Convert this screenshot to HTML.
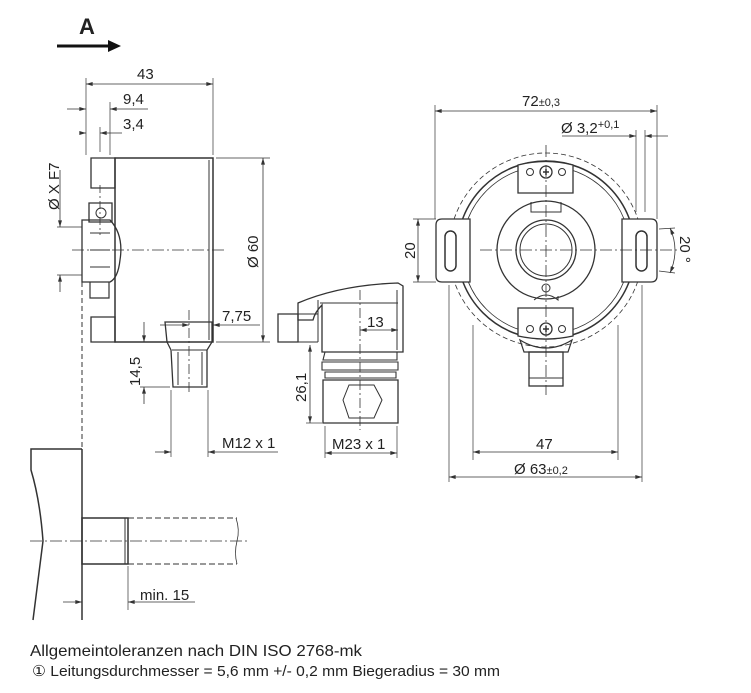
<!DOCTYPE html>
<html><head><meta charset="utf-8"><style>
html,body{margin:0;padding:0;background:#fff;}
svg{display:block;font-family:"Liberation Sans",sans-serif;}
text{fill:#222;}
</style></head><body>
<svg width="751" height="693" viewBox="0 0 751 693" xmlns="http://www.w3.org/2000/svg">
<defs>
<marker id="a" viewBox="0 0 10 6" refX="10" refY="3" markerWidth="9" markerHeight="5" orient="auto-start-reverse"><path d="M0,0 L10,3 L0,6 z" fill="#333"/></marker>
</defs>
<g stroke="#333" fill="none" stroke-width="1">
<line x1="57" y1="46" x2="112" y2="46" stroke-width="3" stroke="#111"/>
<path d="M108,40 L121,46 L108,52 z" fill="#111" stroke="none"/>

<rect x="115" y="158" width="98" height="184" stroke-width="1.5"/>
<line x1="209" y1="160" x2="209" y2="340"/>
<path d="M91,158 L115,158 L115,188 L91,188 Z M91,317 L115,317 L115,342 L91,342 Z" stroke-width="1.3"/>
<path d="M89,203 L112,203 L112,222 L89,222 Z" stroke-width="1.3"/>
<circle cx="101" cy="213" r="5"/>
<path d="M82,220 L110,220 Q124,235 120,260 Q118,278 110,282 L82,282 Z" stroke-width="1.3"/>
<line x1="90" y1="233" x2="110" y2="233"/><line x1="90" y1="250" x2="110" y2="250"/><line x1="90" y1="267" x2="110" y2="267"/>
<path d="M90,282 L90,298 L109,298 L109,282" stroke-width="1.2"/>
<path d="M165,322 L212,322 L212,342 L207,350 L207,387 L173,387 L171,350 L167,342 Z" stroke-width="1.3"/>
<line x1="172" y1="350" x2="207" y2="350"/>
<line x1="178" y1="352" x2="178" y2="385"/><line x1="202" y1="352" x2="202" y2="385"/>
<line x1="72" y1="250" x2="225" y2="250" stroke-dasharray="12,3,2,3" stroke-width="0.8"/>
<line x1="100" y1="185" x2="100" y2="235" stroke-dasharray="8,3,2,3" stroke-width="0.8"/>
<line x1="189" y1="310" x2="189" y2="395" stroke-dasharray="10,3,2,3" stroke-width="0.8"/>
<line x1="82" y1="282" x2="82" y2="450" stroke-dasharray="5,3"/>
<line x1="86" y1="78" x2="86" y2="155" stroke-width="0.7"/>
<line x1="213" y1="78" x2="213" y2="155" stroke-width="0.7"/>
<line x1="86" y1="84" x2="213" y2="84" marker-start="url(#a)" marker-end="url(#a)" stroke-width="0.8"/>
<line x1="110" y1="102" x2="110" y2="155" stroke-width="0.7"/>
<line x1="67" y1="109" x2="86" y2="109" marker-end="url(#a)" stroke-width="0.8"/>
<line x1="148" y1="109" x2="110" y2="109" marker-end="url(#a)" stroke-width="0.8"/>
<line x1="100" y1="127" x2="100" y2="152" stroke-width="0.7"/>
<line x1="80" y1="133" x2="86" y2="133" marker-end="url(#a)" stroke-width="0.8"/>
<line x1="122" y1="133" x2="100" y2="133" marker-end="url(#a)" stroke-width="0.8"/>
<line x1="60" y1="170" x2="60" y2="227" marker-end="url(#a)" stroke-width="0.8"/>
<line x1="60" y1="292" x2="60" y2="275" marker-end="url(#a)" stroke-width="0.8"/>
<line x1="57" y1="227" x2="82" y2="227" stroke-width="0.7"/>
<line x1="57" y1="275" x2="82" y2="275" stroke-width="0.7"/>
<line x1="216" y1="158" x2="270" y2="158" stroke-width="0.7"/>
<line x1="216" y1="342" x2="270" y2="342" stroke-width="0.7"/>
<line x1="263" y1="158" x2="263" y2="342" marker-start="url(#a)" marker-end="url(#a)" stroke-width="0.8"/>
<line x1="160" y1="325" x2="189" y2="325" marker-end="url(#a)" stroke-width="0.8"/>
<line x1="260" y1="325" x2="213" y2="325" marker-end="url(#a)" stroke-width="0.8"/>
<line x1="144" y1="322" x2="144" y2="342" marker-end="url(#a)" stroke-width="0.8"/>
<line x1="144" y1="404" x2="144" y2="387" marker-end="url(#a)" stroke-width="0.8"/>
<line x1="140" y1="387" x2="170" y2="387" stroke-width="0.7"/>
<line x1="171" y1="390" x2="171" y2="457" stroke-width="0.7"/>
<line x1="208" y1="390" x2="208" y2="457" stroke-width="0.7"/>
<line x1="155" y1="452" x2="171" y2="452" marker-end="url(#a)" stroke-width="0.8"/>
<line x1="278" y1="452" x2="208" y2="452" marker-end="url(#a)" stroke-width="0.8"/>

<path d="M82,449 L31,449 L31,470 Q40,500 43,541 Q38,580 33,620" stroke-width="1.5"/>
<line x1="82" y1="449" x2="82" y2="620" stroke-width="1.5"/>
<rect x="82" y="518" width="46" height="46" stroke-width="1.5"/>
<line x1="125" y1="518" x2="125" y2="564"/>
<line x1="128" y1="518" x2="237" y2="518" stroke-dasharray="6,3"/>
<line x1="128" y1="564" x2="237" y2="564" stroke-dasharray="6,3"/>
<path d="M236,518 Q240,530 237,541 Q234,553 237,564" stroke-width="0.8"/>
<line x1="30" y1="541" x2="250" y2="541" stroke-dasharray="12,3,2,3" stroke-width="0.8"/>
<line x1="128" y1="566" x2="128" y2="610" stroke-width="0.7"/>
<line x1="63" y1="602" x2="82" y2="602" marker-end="url(#a)" stroke-width="0.8"/>
<line x1="195" y1="602" x2="128" y2="602" marker-end="url(#a)" stroke-width="0.8"/>

<path d="M298,303 Q340,285 398,283 L403,286 L403,352 L322,352 L322,305 Q315,312 313,320 L298,320 Z" stroke-width="1.3"/>
<path d="M320,303 L398,303" stroke-width="1"/>
<line x1="397" y1="290" x2="397" y2="350"/>
<path d="M278,314 L298,314 L298,342 L278,342 Z" stroke-width="1.3"/>
<line x1="298" y1="314" x2="318" y2="314"/><line x1="298" y1="342" x2="318" y2="342"/>
<line x1="318" y1="300" x2="318" y2="342"/>
<path d="M325,352 L397,352 L397,360 L323,360 Z M322,362 L398,362 L398,370 L322,370 Z M325,372 L396,372 L396,378 L325,378 Z" stroke-width="1.1"/>
<path d="M323,380 L398,380 L398,423 L323,423 Z" stroke-width="1.3"/>
<path d="M349,385 L374,385 L382,400 L374,418 L349,418 L343,400 Z" stroke-width="1"/>
<line x1="360" y1="290" x2="360" y2="430" stroke-dasharray="10,3,2,3" stroke-width="0.8"/>
<line x1="360" y1="330" x2="398" y2="330" marker-start="url(#a)" marker-end="url(#a)" stroke-width="0.8"/>
<line x1="310" y1="345" x2="310" y2="423" marker-start="url(#a)" marker-end="url(#a)" stroke-width="0.8"/>
<line x1="306" y1="423" x2="322" y2="423" stroke-width="0.7"/>
<line x1="325" y1="426" x2="325" y2="458" stroke-width="0.7"/>
<line x1="397" y1="426" x2="397" y2="458" stroke-width="0.7"/>
<line x1="325" y1="453" x2="397" y2="453" marker-start="url(#a)" marker-end="url(#a)" stroke-width="0.8"/>

<circle cx="546" cy="250" r="97" stroke-dasharray="5,3" stroke-width="0.8"/>
<circle cx="546" cy="250" r="89" stroke-width="1.5"/>
<circle cx="546" cy="250" r="84" stroke-width="0.8"/>
<path d="M455,219 L442,219 Q436,219 436,225 L436,276 Q436,282 442,282 L470,282 L470,219 Z" fill="#fff" stroke-width="1.3"/>
<path d="M637,219 L651,219 Q657,219 657,225 L657,276 Q657,282 651,282 L622,282 L622,219 Z" fill="#fff" stroke-width="1.3"/>
<rect x="445" y="231" width="11" height="40" rx="5.5" stroke-width="1.5"/>
<rect x="636" y="231" width="11" height="40" rx="5.5" stroke-width="1.5"/>
<path d="M518,193 L518,165 Q546,158 573,165 L573,193 Z" fill="#fff" stroke-width="1.3"/>
<path d="M518,308 L518,336 Q546,342 573,336 L573,308 Z" fill="#fff" stroke-width="1.3"/>
<circle cx="530" cy="172" r="3.5"/><circle cx="562" cy="172" r="3.5"/><circle cx="546" cy="172" r="6" stroke-width="1.3"/>
<circle cx="530" cy="329" r="3.5"/><circle cx="562" cy="329" r="3.5"/><circle cx="546" cy="329" r="6" stroke-width="1.3"/>
<path d="M543,172 h6 M546,169 v6 M543,329 h6 M546,326 v6" stroke-width="1.5"/>
<circle cx="546" cy="250" r="49" stroke-width="1.3"/>
<circle cx="546" cy="250" r="30" stroke-width="1.3"/>
<circle cx="546" cy="250" r="26" stroke-width="1"/>
<path d="M531,202 L531,212 L561,212 L561,202" stroke-width="1"/>
<path d="M534,300 Q546,290 558,300 L558,296" stroke-width="1"/>
<circle cx="546" cy="288" r="4"/>
<path d="M520,340 Q546,356 572,340 L568,352 L524,352 Z" stroke-width="1.2"/>
<rect x="529" y="352" width="34" height="34" stroke-width="1.3"/>
<line x1="529" y1="378" x2="563" y2="378"/>
<line x1="480" y1="250" x2="680" y2="250" stroke-dasharray="12,3,2,3" stroke-width="0.8"/>
<line x1="546" y1="145" x2="546" y2="395" stroke-dasharray="12,3,2,3" stroke-width="0.8"/>
<line x1="435" y1="105" x2="435" y2="219" stroke-width="0.7"/>
<line x1="657" y1="105" x2="657" y2="219" stroke-width="0.7"/>
<line x1="435" y1="111" x2="657" y2="111" marker-start="url(#a)" marker-end="url(#a)" stroke-width="0.8"/>
<line x1="636" y1="130" x2="636" y2="212" stroke-width="0.7"/>
<line x1="645" y1="130" x2="645" y2="212" stroke-width="0.7"/>
<line x1="562" y1="136" x2="636" y2="136" marker-end="url(#a)" stroke-width="0.8"/>
<line x1="668" y1="136" x2="645" y2="136" marker-end="url(#a)" stroke-width="0.8"/>
<line x1="413" y1="219" x2="436" y2="219" stroke-width="0.7"/>
<line x1="413" y1="282" x2="436" y2="282" stroke-width="0.7"/>
<line x1="418" y1="219" x2="418" y2="282" marker-start="url(#a)" marker-end="url(#a)" stroke-width="0.8"/>
<path d="M659,229 L675,228" stroke-width="0.7"/><path d="M659,271 L675,273" stroke-width="0.7"/>
<path d="M670,228 Q680,250 670,273" marker-start="url(#a)" marker-end="url(#a)" stroke-width="0.8"/>
<line x1="473" y1="325" x2="473" y2="460" stroke-width="0.7"/>
<line x1="618" y1="325" x2="618" y2="460" stroke-width="0.7"/>
<line x1="473" y1="452" x2="618" y2="452" marker-start="url(#a)" marker-end="url(#a)" stroke-width="0.8"/>
<line x1="449" y1="285" x2="449" y2="482" stroke-width="0.7"/>
<line x1="642" y1="285" x2="642" y2="482" stroke-width="0.7"/>
<line x1="449" y1="477" x2="642" y2="477" marker-start="url(#a)" marker-end="url(#a)" stroke-width="0.8"/>
</g>

<g font-size="15">
<text x="79" y="34" font-size="22" font-weight="bold" fill="#111">A</text>
<text x="137" y="79">43</text>
<text x="123" y="104">9,4</text>
<text x="123" y="129">3,4</text>
<text x="222" y="321">7,75</text>
<text x="222" y="448">M12 x 1</text>
<text x="367" y="327">13</text>
<text x="332" y="449">M23 x 1</text>
<text x="522" y="106">72<tspan font-size="11">±0,3</tspan></text>
<text x="561" y="133">Ø 3,2<tspan font-size="11" dy="-5">+0,1</tspan></text>
<text x="536" y="449">47</text>
<text x="514" y="474">Ø 63<tspan font-size="11">±0,2</tspan></text>
<text x="140" y="600">min. 15</text>
<text transform="translate(59,210) rotate(-90)">Ø X F7</text>
<text transform="translate(258,268) rotate(-90)">Ø 60</text>
<text transform="translate(140,386) rotate(-90)">14,5</text>
<text transform="translate(306,402) rotate(-90)">26,1</text>
<text transform="translate(415,259) rotate(-90)">20</text>
<text transform="translate(680,236) rotate(90)">20 °</text>
<text x="30" y="656" font-size="16" textLength="332" lengthAdjust="spacingAndGlyphs">Allgemeintoleranzen nach DIN ISO 2768-mk</text>
<text x="32" y="676" font-size="15" textLength="468" lengthAdjust="spacingAndGlyphs">① Leitungsdurchmesser = 5,6 mm +/- 0,2 mm Biegeradius = 30 mm</text>
</g>
</svg>
</body></html>
